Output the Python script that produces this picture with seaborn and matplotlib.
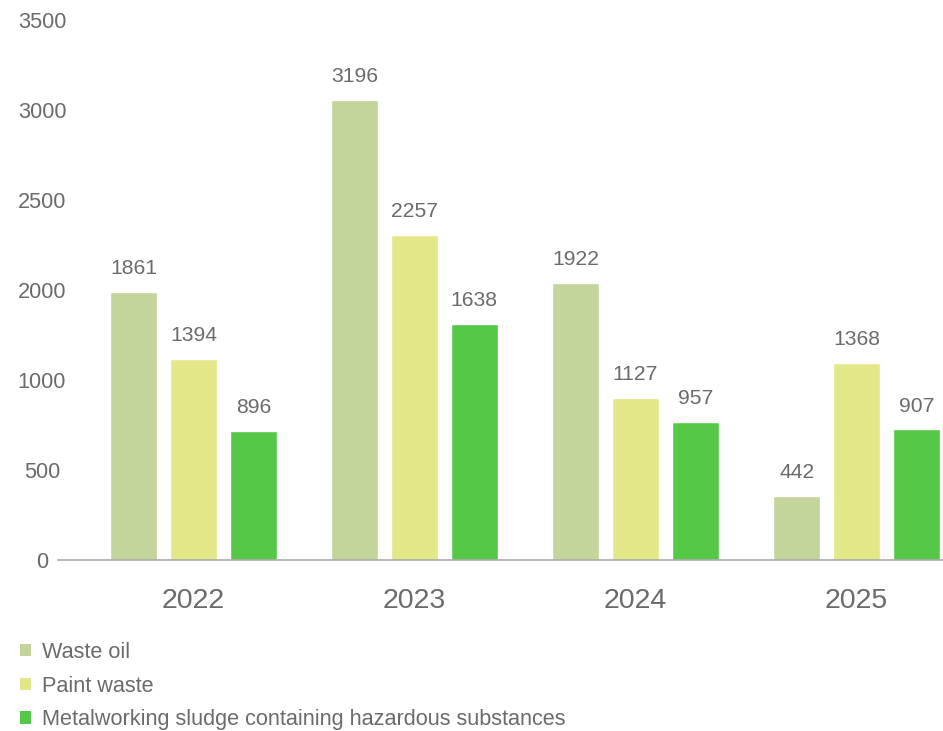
import matplotlib
matplotlib.use("Agg")
import matplotlib.pyplot as plt
from matplotlib.patches import Patch
import numpy as np
import pandas as pd
import seaborn as sns

# Hazardous waste quantities per year
years = ["2022", "2023", "2024", "2025"]
waste_oil = [1861, 3196, 1922, 442]
paint_waste = [1394, 2257, 1127, 1368]
metal_sludge = [896, 1638, 957, 907]
series_names = [
    "Waste oil",
    "Paint waste",
    "Metalworking sludge containing hazardous substances",
]
ytick_labels = ["0", "500", "1000", "2000", "2500", "3000", "3500"]

colors = ["#c4d59b", "#e2e887", "#55c947"]
text_color = "#6b6b6b"

df = pd.DataFrame({
    "year": years * 3,
    "value": waste_oil + paint_waste + metal_sludge,
    "type": [series_names[0]] * 4 + [series_names[1]] * 4 + [series_names[2]] * 4,
})

sns.set_theme(style="white")
plt.rcParams["font.family"] = ["Liberation Sans", "DejaVu Sans"]

fig = plt.figure(figsize=(9.43, 7.31), dpi=100)
ax = fig.add_axes([58 / 943, 171 / 731, 885 / 943, 540 / 731])

sns.barplot(
    data=df, x="year", y="value", hue="type", hue_order=series_names,
    palette=colors, width=0.812, gap=0.214, saturation=1,
    legend=False, ax=ax,
)

for cont in ax.containers:
    ax.bar_label(cont, padding=10, fontsize=15.2, color=text_color)

ax.set_xlim(-0.613, 3.391)
ax.set_ylim(0, 3750)
ax.set_yticks(np.arange(0, 3751, 625))
ax.set_yticklabels(ytick_labels)
ax.set_xlabel("")
ax.set_ylabel("")

ax.tick_params(axis="y", length=0, pad=11.5, labelsize=15.7, labelcolor=text_color)
for lbl in ax.get_yticklabels():
    lbl.set_horizontalalignment("center")
ax.tick_params(axis="x", which="major", length=0, pad=20.5, labelsize=20.5,
               labelcolor=text_color)
ax.set_xticks([-0.613, 0.5, 1.5, 2.5], minor=True)
ax.tick_params(axis="x", which="minor", length=5, width=1, color="#aaaaaa",
               direction="out")

for side in ["left", "right", "top"]:
    ax.spines[side].set_visible(False)
ax.spines["bottom"].set_color("#aaaaaa")
ax.spines["bottom"].set_linewidth(1.2)

handles = [Patch(facecolor=c, edgecolor="none", label=n)
           for c, n in zip(colors, series_names)]
ax.legend(
    handles=handles, loc="upper left",
    bbox_to_anchor=(20 / 943, (731 - 642) / 731), bbox_transform=fig.transFigure,
    frameon=False, fontsize=15.6, labelcolor=text_color,
    handlelength=0.5, handleheight=0.5, handletextpad=0.5,
    labelspacing=0.58, borderpad=0, borderaxespad=0,
)

fig.savefig("out.png", dpi=100)
